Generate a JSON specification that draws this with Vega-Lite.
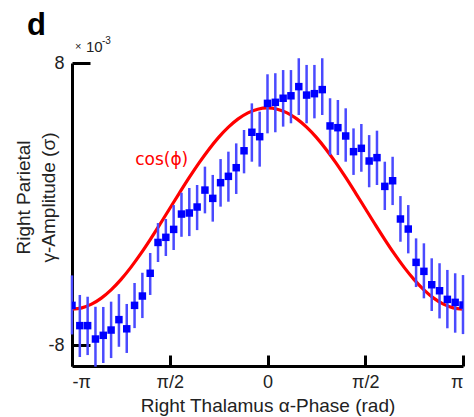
{
  "$schema": "https://vega.github.io/schema/vega-lite/v6.json",
  "autosize": {"type": "none"},
  "width": 391,
  "height": 303,
  "padding": {"left": 72, "top": 63, "right": 11, "bottom": 51},
  "background": "white",
  "config": {
    "view": {"stroke": null},
    "axis": {"grid": false, "domainColor": "black", "domainWidth": 3, "tickColor": "black", "tickWidth": 3, "labelFont": "Liberation Sans", "labelFontSize": 18, "labelColor": "#222", "titleFont": "Liberation Sans", "titleFontSize": 19, "titleFontWeight": "normal", "titleColor": "#222", "zindex": 1}
  },
  "datasets": {
    "bins": [
      {"phi": -3.1416, "amp": -5.75, "lo": -7.40, "hi": -4.05},
      {"phi": -3.0159, "amp": -6.90, "lo": -8.68, "hi": -5.16},
      {"phi": -2.8903, "amp": -6.90, "lo": -8.57, "hi": -5.26},
      {"phi": -2.7646, "amp": -7.66, "lo": -9.23, "hi": -5.83},
      {"phi": -2.6389, "amp": -7.45, "lo": -9.02, "hi": -5.84},
      {"phi": -2.5133, "amp": -7.15, "lo": -8.74, "hi": -5.54},
      {"phi": -2.3876, "amp": -6.56, "lo": -8.10, "hi": -5.11},
      {"phi": -2.2619, "amp": -7.08, "lo": -8.45, "hi": -5.67},
      {"phi": -2.1363, "amp": -5.75, "lo": -7.04, "hi": -4.48},
      {"phi": -2.0106, "amp": -5.22, "lo": -6.47, "hi": -3.90},
      {"phi": -1.8850, "amp": -3.93, "lo": -5.16, "hi": -2.78},
      {"phi": -1.7593, "amp": -2.18, "lo": -3.29, "hi": -1.08},
      {"phi": -1.6336, "amp": -1.89, "lo": -2.95, "hi": -0.85},
      {"phi": -1.5080, "amp": -1.44, "lo": -2.61, "hi": -0.06},
      {"phi": -1.3823, "amp": -0.57, "lo": -1.86, "hi": 0.64},
      {"phi": -1.2566, "amp": -0.51, "lo": -1.82, "hi": 0.91},
      {"phi": -1.1310, "amp": -0.17, "lo": -1.48, "hi": 1.08},
      {"phi": -1.0053, "amp": 0.79, "lo": -0.53, "hi": 2.12},
      {"phi": -0.8796, "amp": 0.32, "lo": -1.00, "hi": 1.65},
      {"phi": -0.7540, "amp": 1.21, "lo": -0.15, "hi": 2.55},
      {"phi": -0.6283, "amp": 1.57, "lo": 0.13, "hi": 2.97},
      {"phi": -0.5027, "amp": 2.06, "lo": 0.57, "hi": 3.44},
      {"phi": -0.3770, "amp": 3.02, "lo": 1.74, "hi": 4.20},
      {"phi": -0.2513, "amp": 4.07, "lo": 2.40, "hi": 5.71},
      {"phi": -0.1257, "amp": 3.82, "lo": 2.12, "hi": 5.24},
      {"phi": 0.0, "amp": 5.71, "lo": 4.01, "hi": 7.36},
      {"phi": 0.1257, "amp": 5.77, "lo": 4.07, "hi": 7.42},
      {"phi": 0.2513, "amp": 6.00, "lo": 4.39, "hi": 7.60},
      {"phi": 0.3770, "amp": 6.14, "lo": 4.58, "hi": 7.60},
      {"phi": 0.5027, "amp": 6.66, "lo": 5.05, "hi": 8.27},
      {"phi": 0.6283, "amp": 6.18, "lo": 4.58, "hi": 7.89},
      {"phi": 0.7540, "amp": 6.26, "lo": 4.86, "hi": 7.89},
      {"phi": 0.8796, "amp": 6.49, "lo": 5.05, "hi": 8.27},
      {"phi": 1.0053, "amp": 4.43, "lo": 2.78, "hi": 6.00},
      {"phi": 1.1310, "amp": 4.33, "lo": 2.78, "hi": 5.90},
      {"phi": 1.2566, "amp": 3.86, "lo": 2.40, "hi": 5.43},
      {"phi": 1.3823, "amp": 2.97, "lo": 1.65, "hi": 4.29},
      {"phi": 1.5080, "amp": 3.16, "lo": 1.83, "hi": 4.54},
      {"phi": 1.6336, "amp": 2.44, "lo": 0.95, "hi": 3.91},
      {"phi": 1.7593, "amp": 2.63, "lo": 1.08, "hi": 4.16},
      {"phi": 1.8850, "amp": 1.00, "lo": -0.34, "hi": 2.40},
      {"phi": 2.0106, "amp": 1.32, "lo": -0.06, "hi": 2.68},
      {"phi": 2.1363, "amp": -0.85, "lo": -2.14, "hi": 0.45},
      {"phi": 2.2619, "amp": -1.42, "lo": -2.80, "hi": -0.06},
      {"phi": 2.3876, "amp": -3.31, "lo": -4.71, "hi": -1.95},
      {"phi": 2.5133, "amp": -3.82, "lo": -5.35, "hi": -2.23},
      {"phi": 2.6389, "amp": -4.58, "lo": -6.07, "hi": -3.08},
      {"phi": 2.7646, "amp": -4.92, "lo": -6.49, "hi": -3.36},
      {"phi": 2.8903, "amp": -5.41, "lo": -7.05, "hi": -3.74},
      {"phi": 3.0159, "amp": -5.58, "lo": -7.30, "hi": -3.93},
      {"phi": 3.1416, "amp": -5.73, "lo": -7.38, "hi": -4.03}
    ],
    "cosine": [
      {"phi": -3.1416, "c": -5.960}, {"phi": -2.9845, "c": -5.890}, {"phi": -2.8274, "c": -5.681},
      {"phi": -2.6704, "c": -5.338}, {"phi": -2.5133, "c": -4.870}, {"phi": -2.3562, "c": -4.289},
      {"phi": -2.1991, "c": -3.608}, {"phi": -2.0420, "c": -2.845}, {"phi": -1.8850, "c": -2.018},
      {"phi": -1.7279, "c": -1.147}, {"phi": -1.5708, "c": -0.255}, {"phi": -1.4137, "c": 0.637},
      {"phi": -1.2566, "c": 1.508}, {"phi": -1.0996, "c": 2.335}, {"phi": -0.9425, "c": 3.098},
      {"phi": -0.7854, "c": 3.779}, {"phi": -0.6283, "c": 4.360}, {"phi": -0.4712, "c": 4.828},
      {"phi": -0.3142, "c": 5.171}, {"phi": -0.1571, "c": 5.380}, {"phi": 0.0, "c": 5.450},
      {"phi": 0.1571, "c": 5.380}, {"phi": 0.3142, "c": 5.171}, {"phi": 0.4712, "c": 4.828},
      {"phi": 0.6283, "c": 4.360}, {"phi": 0.7854, "c": 3.779}, {"phi": 0.9425, "c": 3.098},
      {"phi": 1.0996, "c": 2.335}, {"phi": 1.2566, "c": 1.508}, {"phi": 1.4137, "c": 0.637},
      {"phi": 1.5708, "c": -0.255}, {"phi": 1.7279, "c": -1.147}, {"phi": 1.8850, "c": -2.018},
      {"phi": 2.0420, "c": -2.845}, {"phi": 2.1991, "c": -3.608}, {"phi": 2.3562, "c": -4.289},
      {"phi": 2.5133, "c": -4.870}, {"phi": 2.6704, "c": -5.338}, {"phi": 2.8274, "c": -5.681},
      {"phi": 2.9845, "c": -5.890}, {"phi": 3.1416, "c": -5.960}
    ],
    "labels": [
      {"phi": -1.70, "v": 2.5, "t": "cos(ϕ)"}
    ],
    "anchor": [
      {"phi": -3.14159265, "v": 8}
    ]
  },
  "layer": [
    {
      "data": {"name": "cosine"},
      "mark": {"type": "line", "color": "#ff0000", "strokeWidth": 3.2, "interpolate": "monotone"},
      "encoding": {
        "x": {"field": "phi", "type": "quantitative", "scale": {"domain": [-3.14159265, 3.14159265], "nice": false, "zero": false},
          "axis": {"values": [-3.14159265, -1.5707963, 0, 1.5707963, 3.14159265], "tickSize": -11, "labelPadding": 18,
            "labelExpr": "datum.value < -3 ? '-π' : datum.value < -1 ? 'π/2' : datum.value < 1 ? '0' : datum.value < 3 ? 'π/2' : 'π'",
            "title": "Right Thalamus α-Phase (rad)", "titleY": 45, "titleBaseline": "alphabetic"}},
        "y": {"field": "c", "type": "quantitative", "scale": {"domain": [-9.19, 8], "nice": false, "zero": false},
          "axis": {"values": [-8, 8], "tickSize": -18, "labelPadding": 26, "labelExpr": "'' + datum.value",
            "title": ["Right Parietal", "γ-Amplitude (σ)"], "titleX": -39, "titleY": 134, "titleLineHeight": 25}}
      }
    },
    {
      "data": {"name": "bins"},
      "mark": {"type": "rule", "color": "#4a4aff", "strokeWidth": 2.5},
      "encoding": {
        "x": {"field": "phi", "type": "quantitative"},
        "y": {"field": "lo", "type": "quantitative"},
        "y2": {"field": "hi"}
      }
    },
    {
      "data": {"name": "bins"},
      "mark": {"type": "point", "shape": "square", "filled": true, "color": "#0000ff", "opacity": 1, "size": 56, "clip": true},
      "encoding": {
        "x": {"field": "phi", "type": "quantitative"},
        "y": {"field": "amp", "type": "quantitative"}
      }
    },
    {
      "data": {"name": "labels"},
      "mark": {"type": "text", "color": "#ff0000", "font": "DejaVu Sans", "fontSize": 17, "align": "center", "baseline": "middle"},
      "encoding": {
        "x": {"field": "phi", "type": "quantitative"},
        "y": {"field": "v", "type": "quantitative"},
        "text": {"field": "t"}
      }
    },
    {
      "data": {"name": "anchor"},
      "mark": {"type": "text", "text": "d", "font": "Liberation Sans", "fontSize": 31, "fontWeight": "bold", "color": "black", "align": "left", "baseline": "alphabetic", "dx": -45, "dy": -28},
      "encoding": {"x": {"field": "phi", "type": "quantitative"}, "y": {"field": "v", "type": "quantitative"}}
    },
    {
      "data": {"name": "anchor"},
      "mark": {"type": "text", "text": "×", "font": "Liberation Sans", "fontSize": 11, "color": "#222", "align": "left", "baseline": "alphabetic", "dx": 3, "dy": -13},
      "encoding": {"x": {"field": "phi", "type": "quantitative"}, "y": {"field": "v", "type": "quantitative"}}
    },
    {
      "data": {"name": "anchor"},
      "mark": {"type": "text", "text": "10", "font": "Liberation Sans", "fontSize": 15, "color": "#222", "align": "left", "baseline": "alphabetic", "dx": 14, "dy": -11},
      "encoding": {"x": {"field": "phi", "type": "quantitative"}, "y": {"field": "v", "type": "quantitative"}}
    },
    {
      "data": {"name": "anchor"},
      "mark": {"type": "text", "text": "-3", "font": "Liberation Sans", "fontSize": 10, "color": "#222", "align": "left", "baseline": "alphabetic", "dx": 30, "dy": -19},
      "encoding": {"x": {"field": "phi", "type": "quantitative"}, "y": {"field": "v", "type": "quantitative"}}
    }
  ]
}
